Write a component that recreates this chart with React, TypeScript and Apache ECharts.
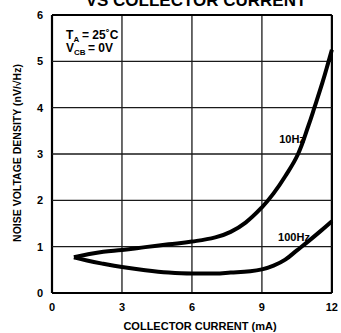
import React, { useEffect, useRef } from "react";
import * as echarts from "echarts";

const xTicks = [0, 3, 6, 9, 12];
const yTicks = [0, 1, 2, 3, 4, 5, 6];

const curve10Hz: [number, number][] = [
  [0.94, 0.77], [1.5, 0.83], [2.2, 0.89], [3, 0.93], [4, 0.99], [5, 1.05],
  [6, 1.11], [7, 1.2], [7.66, 1.32], [8.3, 1.52], [9, 1.85], [9.5, 2.15],
  [10, 2.52], [10.55, 3.0], [11, 3.62], [11.25, 4.0], [11.6, 4.55],
  [11.86, 5.0], [12, 5.25],
];

const curve100Hz: [number, number][] = [
  [0.94, 0.77], [1.5, 0.7], [2.2, 0.63], [3, 0.56], [4, 0.49], [5, 0.44],
  [6, 0.42], [7, 0.42], [7.66, 0.44], [8.5, 0.47], [9, 0.51], [9.5, 0.59],
  [10, 0.72], [10.5, 0.92], [11, 1.12], [11.5, 1.33], [12, 1.55],
];

const FONT = '"Liberation Sans", Arial, Helvetica, sans-serif';

export default function App() {
  const ref = useRef<HTMLDivElement>(null);
  useEffect(() => {
    document.body.style.margin = "0";
    const chart = echarts.init(ref.current!, undefined, { renderer: "svg" });
    const bold = (size: number) => ({
      fontFamily: FONT,
      fontWeight: "bold" as const,
      fontSize: size,
      fill: "#000",
    });
    const tickLabel = {
      color: "#000",
      fontFamily: FONT,
      fontWeight: "bold" as const,
      fontSize: 11,
    };
    const xMin = xTicks[0];
    const xMax = xTicks[xTicks.length - 1];
    const yMin = yTicks[0];
    const yMax = yTicks[yTicks.length - 1];
    const gridSeries: any[] = [];
    const addGrid = (data: [number, number][], edge: boolean) =>
      gridSeries.push({
        type: "line",
        data,
        silent: true,
        showSymbol: false,
        z: 1,
        lineStyle: { color: edge ? "#000" : "#1a1a1a", width: edge ? 2.2 : 1.3 },
      });
    xTicks.forEach((v) => addGrid([[v, yMin], [v, yMax]], v === xMin || v === xMax));
    yTicks.forEach((v) => addGrid([[xMin, v], [xMax, v]], v === yMin || v === yMax));
    chart.setOption({
      animation: false,
      backgroundColor: "#fff",
      grid: { left: 52, right: 5, top: 15, bottom: 40 },
      xAxis: {
        type: "value",
        min: xMin,
        max: xMax,
        interval: 3,
        axisLine: { show: false },
        axisTick: { show: false },
        splitLine: { show: false },
        axisLabel: { margin: 8, ...tickLabel },
      },
      yAxis: {
        type: "value",
        min: yMin,
        max: yMax,
        interval: 1,
        axisLine: { show: false },
        axisTick: { show: false },
        splitLine: { show: false },
        axisLabel: { margin: 9, ...tickLabel },
      },
      series: [
        ...gridSeries,
        {
          name: "10Hz",
          type: "line",
          data: curve10Hz,
          smooth: 0.4,
          showSymbol: false,
          z: 3,
          lineStyle: { color: "#000", width: 4 },
        },
        {
          name: "100Hz",
          type: "line",
          data: curve100Hz,
          smooth: 0.4,
          showSymbol: false,
          z: 3,
          lineStyle: { color: "#000", width: 4 },
        },
      ],
      graphic: [
        {
          type: "text",
          x: 196,
          y: 0,
          style: { ...bold(17), text: "VS COLLECTOR CURRENT", align: "center", verticalAlign: "middle" },
        },
        {
          type: "text",
          x: 200,
          y: 326,
          style: { ...bold(11), text: "COLLECTOR CURRENT (mA)", align: "center", verticalAlign: "middle" },
        },
        {
          type: "text",
          x: 17,
          y: 153,
          rotation: Math.PI / 2,
          style: { ...bold(10.5), text: "NOISE VOLTAGE DENSITY (nV/\u221AHz)", align: "center", verticalAlign: "middle" },
        },
        { type: "text", x: 66, y: 35, style: { ...bold(12), text: "T", verticalAlign: "middle" } },
        { type: "text", x: 73.5, y: 39.5, style: { ...bold(8), text: "A", verticalAlign: "middle" } },
        { type: "text", x: 82, y: 35, style: { ...bold(12), text: "= 25\u02DAC", verticalAlign: "middle" } },
        { type: "text", x: 66, y: 47.5, style: { ...bold(12), text: "V", verticalAlign: "middle" } },
        { type: "text", x: 74, y: 52, style: { ...bold(8), text: "CB", verticalAlign: "middle" } },
        { type: "text", x: 88, y: 47.5, style: { ...bold(12), text: "= 0V", verticalAlign: "middle" } },
        { type: "text", x: 292, y: 139, style: { ...bold(11), text: "10Hz", align: "center", verticalAlign: "middle" } },
        { type: "text", x: 294, y: 237, style: { ...bold(11), text: "100Hz", align: "center", verticalAlign: "middle" } },
      ],
    });
    return () => chart.dispose();
  }, []);
  return (
    <div
      ref={ref}
      style={{ position: "absolute", left: 0, top: 0, width: 341, height: 333 }}
    />
  );
}
